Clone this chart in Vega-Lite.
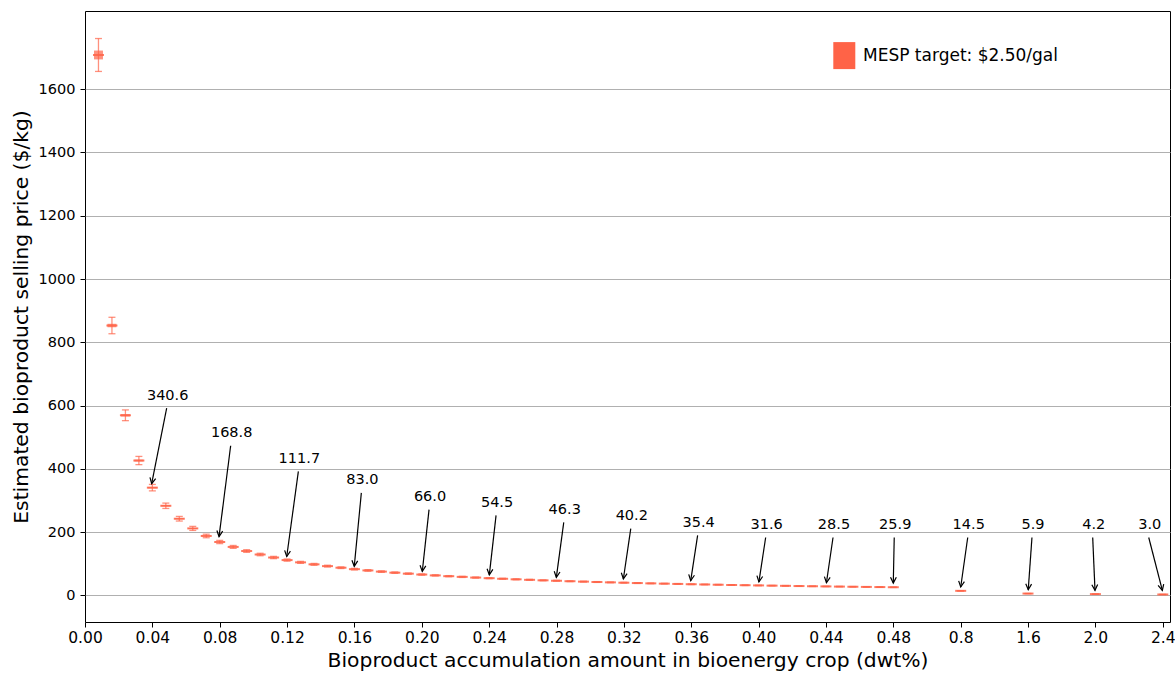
{
 "$schema": "https://vega.github.io/schema/vega-lite/v6.json",
 "width": 1085,
 "height": 611,
 "autosize": {"type": "none"},
 "padding": {"left": 85, "top": 11, "right": 5, "bottom": 53},
 "background": "white",
 "config": {
  "font": "DejaVu Sans",
  "view": {"stroke": "#000", "strokeWidth": 1},
  "axis": {"labelFont": "DejaVu Sans", "titleFont": "DejaVu Sans", "labelFontSize": 14, "titleFontSize": 20.3, "titleFontWeight": "normal", "labelColor": "#000", "titleColor": "#000", "tickColor": "#000", "tickSize": 5, "tickWidth": 1, "domain": false, "gridColor": "#b0b0b0", "gridWidth": 1, "gridOpacity": 1, "labelFlush": false, "labelOverlap": false},
  "axisX": {"grid": false, "labelPadding": 3, "labelFontSize": 15.5, "titleY": 44, "titleBaseline": "alphabetic"},
  "axisY": {"grid": true, "labelPadding": 5, "labelFontSize": 14.5, "titleX": -58, "titleBaseline": "alphabetic"}
 },
 "datasets": {
  "pts": [
   {"x": 0.008, "y": 1708, "e": 52, "b": 14},
   {"x": 0.016, "y": 853, "e": 26, "b": 5.5},
   {"x": 0.024, "y": 569.3, "e": 17, "b": 3.8},
   {"x": 0.032, "y": 426.3, "e": 13, "b": 2.9},
   {"x": 0.04, "y": 340.6, "e": 10.2, "b": 2.3},
   {"x": 0.048, "y": 283.3, "e": 8.5, "b": 1.9},
   {"x": 0.056, "y": 242.4, "e": 7.3, "b": 1.6},
   {"x": 0.064, "y": 211.8, "e": 6.4, "b": 1.4},
   {"x": 0.072, "y": 187.9, "e": 5.6, "b": 1.3},
   {"x": 0.08, "y": 168.8, "e": 5.1, "b": 1.1},
   {"x": 0.088, "y": 153.3, "e": 4.6, "b": 1.0},
   {"x": 0.096, "y": 140.3, "e": 4.2, "b": 0.95},
   {"x": 0.104, "y": 129.3, "e": 3.9, "b": 0.9},
   {"x": 0.112, "y": 119.8, "e": 3.6, "b": 0.85},
   {"x": 0.12, "y": 111.7, "e": 3.4, "b": 0.8},
   {"x": 0.128, "y": 104.5, "e": 3.1, "b": 0.7},
   {"x": 0.136, "y": 98.2, "e": 2.9, "b": 0.7},
   {"x": 0.144, "y": 92.6, "e": 2.8, "b": 0.65},
   {"x": 0.152, "y": 87.6, "e": 2.6, "b": 0.6},
   {"x": 0.16, "y": 83.0, "e": 2.5, "b": 0.6},
   {"x": 0.168, "y": 79.0, "e": 2.4, "b": 0.55},
   {"x": 0.176, "y": 75.3, "e": 2.3, "b": 0.55},
   {"x": 0.184, "y": 71.9, "e": 2.2, "b": 0.5},
   {"x": 0.192, "y": 68.8, "e": 2.1, "b": 0.5},
   {"x": 0.2, "y": 66.0, "e": 2.0, "b": 0.5},
   {"x": 0.208, "y": 63.3, "e": 1.9, "b": 0.45},
   {"x": 0.216, "y": 60.8, "e": 1.8, "b": 0.45},
   {"x": 0.224, "y": 58.6, "e": 1.8, "b": 0.4},
   {"x": 0.232, "y": 56.4, "e": 1.7, "b": 0.4},
   {"x": 0.24, "y": 54.5, "e": 1.6, "b": 0.4},
   {"x": 0.248, "y": 52.6, "e": 1.6, "b": 0.4},
   {"x": 0.256, "y": 50.9, "e": 1.5, "b": 0.35},
   {"x": 0.264, "y": 49.3, "e": 1.5, "b": 0.35},
   {"x": 0.272, "y": 47.7, "e": 1.4, "b": 0.35},
   {"x": 0.28, "y": 46.3, "e": 1.4, "b": 0.3},
   {"x": 0.288, "y": 44.9, "e": 1.3, "b": 0.3},
   {"x": 0.296, "y": 43.6, "e": 1.3, "b": 0.3},
   {"x": 0.304, "y": 42.4, "e": 1.3, "b": 0.3},
   {"x": 0.312, "y": 41.3, "e": 1.2, "b": 0.3},
   {"x": 0.32, "y": 40.2, "e": 1.2, "b": 0.3},
   {"x": 0.328, "y": 39.1, "e": 1.2, "b": 0.3},
   {"x": 0.336, "y": 38.1, "e": 1.1, "b": 0.3},
   {"x": 0.344, "y": 37.2, "e": 1.1, "b": 0.25},
   {"x": 0.352, "y": 36.3, "e": 1.1, "b": 0.25},
   {"x": 0.36, "y": 35.4, "e": 1.1, "b": 0.25},
   {"x": 0.368, "y": 34.6, "e": 1.0, "b": 0.25},
   {"x": 0.376, "y": 33.8, "e": 1.0, "b": 0.25},
   {"x": 0.384, "y": 33.0, "e": 1.0, "b": 0.25},
   {"x": 0.392, "y": 32.3, "e": 1.0, "b": 0.25},
   {"x": 0.4, "y": 31.6, "e": 0.95, "b": 0.2},
   {"x": 0.408, "y": 30.9, "e": 0.93, "b": 0.2},
   {"x": 0.416, "y": 30.3, "e": 0.91, "b": 0.2},
   {"x": 0.424, "y": 29.6, "e": 0.89, "b": 0.2},
   {"x": 0.432, "y": 29.0, "e": 0.87, "b": 0.2},
   {"x": 0.44, "y": 28.5, "e": 0.86, "b": 0.2},
   {"x": 0.448, "y": 27.9, "e": 0.84, "b": 0.2},
   {"x": 0.456, "y": 27.4, "e": 0.82, "b": 0.2},
   {"x": 0.464, "y": 26.9, "e": 0.81, "b": 0.2},
   {"x": 0.472, "y": 26.4, "e": 0.79, "b": 0.2},
   {"x": 0.48, "y": 25.9, "e": 0.78, "b": 0.2},
   {"x": 0.8, "y": 14.5, "e": 0.44, "b": 0.1},
   {"x": 1.6, "y": 5.9, "e": 0.18, "b": 0.05},
   {"x": 2.0, "y": 4.2, "e": 0.13, "b": 0.04},
   {"x": 2.4, "y": 3.0, "e": 0.09, "b": 0.03}
  ],
  "ann": [
   {"label": "340.6", "sx": 0.0485, "sy": 592, "ex": 0.0396, "ey": 353},
   {"label": "168.8", "sx": 0.0865, "sy": 473, "ex": 0.0796, "ey": 186},
   {"label": "111.7", "sx": 0.1267, "sy": 392, "ex": 0.1198, "ey": 123},
   {"label": "83.0", "sx": 0.1641, "sy": 324, "ex": 0.1599, "ey": 92},
   {"label": "66.0", "sx": 0.2043, "sy": 271, "ex": 0.2003, "ey": 76},
   {"label": "54.5", "sx": 0.2441, "sy": 253, "ex": 0.2401, "ey": 65},
   {"label": "46.3", "sx": 0.2843, "sy": 231, "ex": 0.2799, "ey": 57},
   {"label": "40.2", "sx": 0.3241, "sy": 211, "ex": 0.3197, "ey": 52},
   {"label": "35.4", "sx": 0.3638, "sy": 190, "ex": 0.3597, "ey": 47},
   {"label": "31.6", "sx": 0.4042, "sy": 183, "ex": 0.4002, "ey": 43},
   {"label": "28.5", "sx": 0.4442, "sy": 183, "ex": 0.4403, "ey": 40},
   {"label": "25.9", "sx": 0.4844, "sy": 183, "ex": 0.48, "ey": 39},
   {"label": "14.5", "sx": 0.8834, "sy": 183, "ex": 0.8002, "ey": 26.5},
   {"label": "5.9", "sx": 1.6235, "sy": 183, "ex": 1.6015, "ey": 18},
   {"label": "4.2", "sx": 1.984, "sy": 183, "ex": 1.9976, "ey": 16},
   {"label": "3.0", "sx": 2.3165, "sy": 183, "ex": 2.3973, "ey": 16}
  ]
 },
 "layer": [
  {
   "data": {"name": "pts"},
   "mark": {"type": "errorbar", "ticks": {"size": 7, "thickness": 1.3}, "rule": {"strokeWidth": 1.3}, "color": "#ff6347", "opacity": 0.7},
   "encoding": {
    "x": {"field": "x", "type": "quantitative", "title": "Bioproduct accumulation amount in bioenergy crop (dwt%)",
          "scale": {"type": "linear", "domain": [0, 0.48, 0.8, 1.6, 2.0, 2.4, 2.4428], "range": [0, 808.3, 875.7, 943.0, 1010.4, 1077.8, 1085], "nice": false, "zero": false},
          "axis": {"values": [0, 0.04, 0.08, 0.12, 0.16, 0.2, 0.24, 0.28, 0.32, 0.36, 0.4, 0.44, 0.48, 0.8, 1.6, 2.0, 2.4], "labelExpr": "datum.value > 0.5 ? format(datum.value, '.1f') : format(datum.value, '.2f')"}},
    "y": {"field": "y", "type": "quantitative", "title": "Estimated bioproduct selling price ($/kg)",
          "scale": {"domain": [-84, 1847], "nice": false, "zero": false},
          "axis": {"values": [0, 200, 400, 600, 800, 1000, 1200, 1400, 1600], "format": "d"}},
    "yError": {"field": "e"}
   }
  },
  {
   "data": {"name": "pts"},
   "mark": {"type": "errorbar", "thickness": 9, "color": "#ff6347", "opacity": 0.7},
   "encoding": {
    "x": {"field": "x", "type": "quantitative", "title": "Bioproduct accumulation amount in bioenergy crop (dwt%)"},
    "y": {"field": "y", "type": "quantitative", "title": "Estimated bioproduct selling price ($/kg)"},
    "yError": {"field": "b"}
   }
  },
  {
   "data": {"name": "pts"},
   "mark": {"type": "tick", "orient": "horizontal", "size": 11, "thickness": 2, "opacity": 0.85},
   "encoding": {
    "x": {"field": "x", "type": "quantitative", "title": "Bioproduct accumulation amount in bioenergy crop (dwt%)"},
    "y": {"field": "y", "type": "quantitative", "title": "Estimated bioproduct selling price ($/kg)"},
    "color": {"datum": "MESP target: $2.50/gal", "type": "nominal", "scale": {"range": ["#ff6347"]},
              "legend": {"orient": "none", "legendX": 745.8, "legendY": 31.1, "title": null, "padding": 0, "offset": 0,
                         "symbolType": "M-0.815,-1H0.815V1H-0.815Z", "symbolSize": 729, "symbolFillColor": "#ff6347", "symbolStrokeWidth": 0, "symbolOpacity": 1,
                         "labelFontSize": 17, "labelFont": "DejaVu Sans", "labelColor": "#000", "labelOffset": 5.2, "labelLimit": 500}}
   }
  },
  {
   "data": {"name": "ann"},
   "mark": {"type": "rule", "color": "#000", "strokeWidth": 1.2},
   "encoding": {
    "x": {"field": "sx", "type": "quantitative", "title": "Bioproduct accumulation amount in bioenergy crop (dwt%)"},
    "y": {"field": "sy", "type": "quantitative", "title": "Estimated bioproduct selling price ($/kg)"},
    "x2": {"field": "ex"},
    "y2": {"field": "ey"}
   }
  },
  {
   "data": {"name": "ann"},
   "transform": [
    {"calculate": "atan2(scale('x', datum.sx) - scale('x', datum.ex), scale('y', datum.ey) - scale('y', datum.sy)) * 180 / PI", "as": "ang"}
   ],
   "mark": {"type": "point", "shape": "M-0.5,-1L0,0L0.5,-1", "filled": false, "color": "#000", "strokeWidth": 1.2, "size": 135, "opacity": 1},
   "encoding": {
    "x": {"field": "ex", "type": "quantitative", "title": "Bioproduct accumulation amount in bioenergy crop (dwt%)"},
    "y": {"field": "ey", "type": "quantitative", "title": "Estimated bioproduct selling price ($/kg)"},
    "angle": {"field": "ang", "type": "quantitative", "scale": null}
   }
  },
  {
   "data": {"name": "ann"},
   "mark": {"type": "text", "font": "DejaVu Sans", "fontSize": 14.5, "align": "center", "baseline": "alphabetic", "dy": -8.5, "dx": 1, "color": "#000"},
   "encoding": {
    "x": {"field": "sx", "type": "quantitative", "title": "Bioproduct accumulation amount in bioenergy crop (dwt%)"},
    "y": {"field": "sy", "type": "quantitative", "title": "Estimated bioproduct selling price ($/kg)"},
    "text": {"field": "label", "type": "nominal"}
   }
  }
 ]
}
